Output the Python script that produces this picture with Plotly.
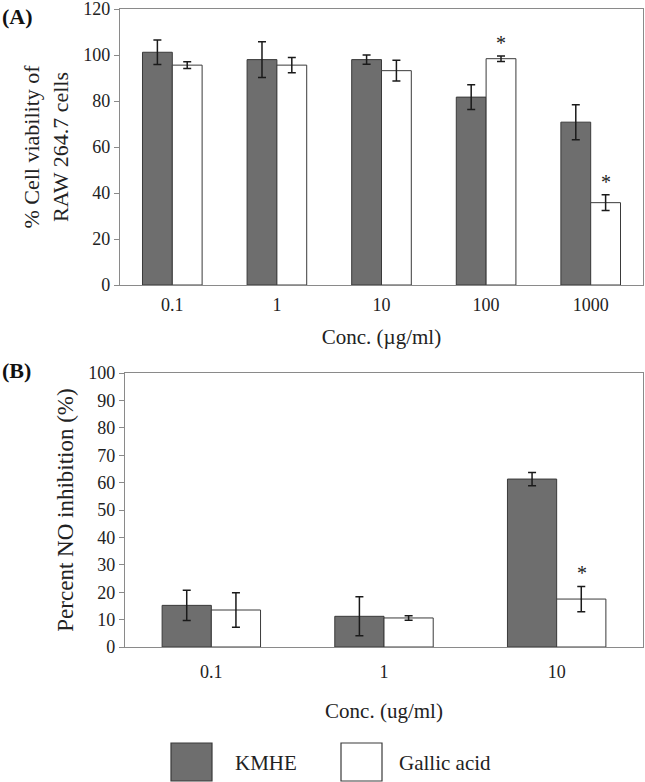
import plotly.graph_objects as go

# ---- data ----
conc_a = ["0.1", "1", "10", "100", "1000"]
kmhe_a = [101.2, 98.0, 98.0, 81.7, 70.8]
kmhe_a_err = [5.3, 7.8, 2.0, 5.4, 7.6]
gallic_a = [95.6, 95.6, 93.2, 98.4, 35.8]
gallic_a_err = [1.5, 3.3, 4.5, 1.2, 3.4]
star_a = ["100", "1000"]

conc_b = ["0.1", "1", "10"]
kmhe_b = [15.2, 11.2, 61.3]
kmhe_b_err = [5.5, 7.1, 2.4]
gallic_b = [13.5, 10.6, 17.5]
gallic_b_err = [6.3, 0.8, 4.6]
star_b = ["10"]

W, H = 645, 782
FONT = "Liberation Serif"
DARK = "#6e6e6e"
EDGE = "#3a3a3a"
FRAME = "#8a8a8a"


def px(x):
    return x / W


def py(y):
    return 1 - y / H


fig = go.Figure()

err_style = dict(type="data", color="#1a1a1a", thickness=1.5, width=4)

fig.add_trace(go.Bar(x=conc_a, y=kmhe_a, name="KMHE", marker=dict(color=DARK, line=dict(color=EDGE, width=1)),
                     error_y=dict(array=kmhe_a_err, **err_style), xaxis="x", yaxis="y", showlegend=False))
fig.add_trace(go.Bar(x=conc_a, y=gallic_a, name="Gallic acid", marker=dict(color="white", line=dict(color=EDGE, width=1)),
                     error_y=dict(array=gallic_a_err, **err_style), xaxis="x", yaxis="y", showlegend=False))
fig.add_trace(go.Bar(x=conc_b, y=kmhe_b, name="KMHE", marker=dict(color=DARK, line=dict(color=EDGE, width=1)),
                     error_y=dict(array=kmhe_b_err, **err_style), xaxis="x2", yaxis="y2", showlegend=False))
fig.add_trace(go.Bar(x=conc_b, y=gallic_b, name="Gallic acid", marker=dict(color="white", line=dict(color=EDGE, width=1)),
                     error_y=dict(array=gallic_b_err, **err_style), xaxis="x2", yaxis="y2", showlegend=False))

annotations = []
for c in star_a:
    i = conc_a.index(c)
    annotations.append(dict(x=i, y=gallic_a[i] + gallic_a_err[i], xref="x", yref="y", text="*",
                            showarrow=False, xshift=15, yshift=0, yanchor="bottom",
                            font=dict(family=FONT, size=20, color="#222")))
for c in star_b:
    i = conc_b.index(c)
    annotations.append(dict(x=i, y=gallic_b[i] + gallic_b_err[i], xref="x2", yref="y2", text="*",
                            showarrow=False, xshift=25, yshift=0, yanchor="bottom",
                            font=dict(family=FONT, size=20, color="#222")))

# panel labels
annotations.append(dict(x=px(0), y=py(17), xref="paper", yref="paper", text="<b>(A)</b>", showarrow=False,
                        xanchor="left", yanchor="middle", font=dict(family=FONT, size=22, color="#111")))
annotations.append(dict(x=px(0), y=py(370), xref="paper", yref="paper", text="<b>(B)</b>", showarrow=False,
                        xanchor="left", yanchor="middle", font=dict(family=FONT, size=22, color="#111")))

# legend (drawn)
legend_items = [("KMHE", DARK, 171, 233), ("Gallic acid", "white", 341, 397)]
shapes = []
for label, col, bx, tx in legend_items:
    shapes.append(dict(type="rect", xref="paper", yref="paper", x0=px(bx), x1=px(bx + 41),
                       y0=py(781), y1=py(743), fillcolor=col, line=dict(color=EDGE, width=1.2)))
    annotations.append(dict(x=px(tx), y=py(763), xref="paper", yref="paper", text=label, showarrow=False,
                            xanchor="left", yanchor="middle", font=dict(family=FONT, size=21, color="#222")))

axis_common = dict(showline=True, linecolor=FRAME, linewidth=1.2, mirror=True, showgrid=False,
                   zeroline=False, automargin=False, ticklabeloverflow="allow",
                   tickfont=dict(family=FONT, size=18, color="#222"))

fig.update_layout(
    width=W, height=H,
    margin=dict(l=0, r=0, t=0, b=0),
    paper_bgcolor="white", plot_bgcolor="white",
    barmode="group", bargap=0.43, bargroupgap=0,
    annotations=annotations, shapes=shapes,
    xaxis=dict(domain=[px(120), px(643)], anchor="y", type="category", ticks="", ticklabelstandoff=3,
               range=[-0.5, len(conc_a) - 0.5],
               title=dict(text="Conc. (µg/ml)", font=dict(family=FONT, size=21, color="#222"), standoff=15),
               **axis_common),
    yaxis=dict(domain=[py(285), py(9)], anchor="x", range=[0, 120.01], dtick=20, ticks="outside", ticklen=5,
               tickcolor=FRAME,
               title=dict(text="% Cell viability of<br>RAW 264.7 cells",
                          font=dict(family=FONT, size=22, color="#222"), standoff=8),
               **axis_common),
    xaxis2=dict(domain=[px(125), px(643)], anchor="y2", type="category", ticks="", ticklabelstandoff=8,
                range=[-0.5, len(conc_b) - 0.5],
                title=dict(text="Conc. (ug/ml)", font=dict(family=FONT, size=21, color="#222"), standoff=22),
                **axis_common),
    yaxis2=dict(domain=[py(647), py(373)], anchor="x2", range=[0, 100.01], dtick=10, ticks="outside", ticklen=5,
                tickcolor=FRAME,
                title=dict(text="Percent NO inhibition (%)", font=dict(family=FONT, size=23, color="#222"),
                           standoff=8),
                **axis_common),
)

fig.write_html("out.html", config={"displayModeBar": False},
               post_script="document.body.style.margin='0';document.body.style.overflow='hidden';")
